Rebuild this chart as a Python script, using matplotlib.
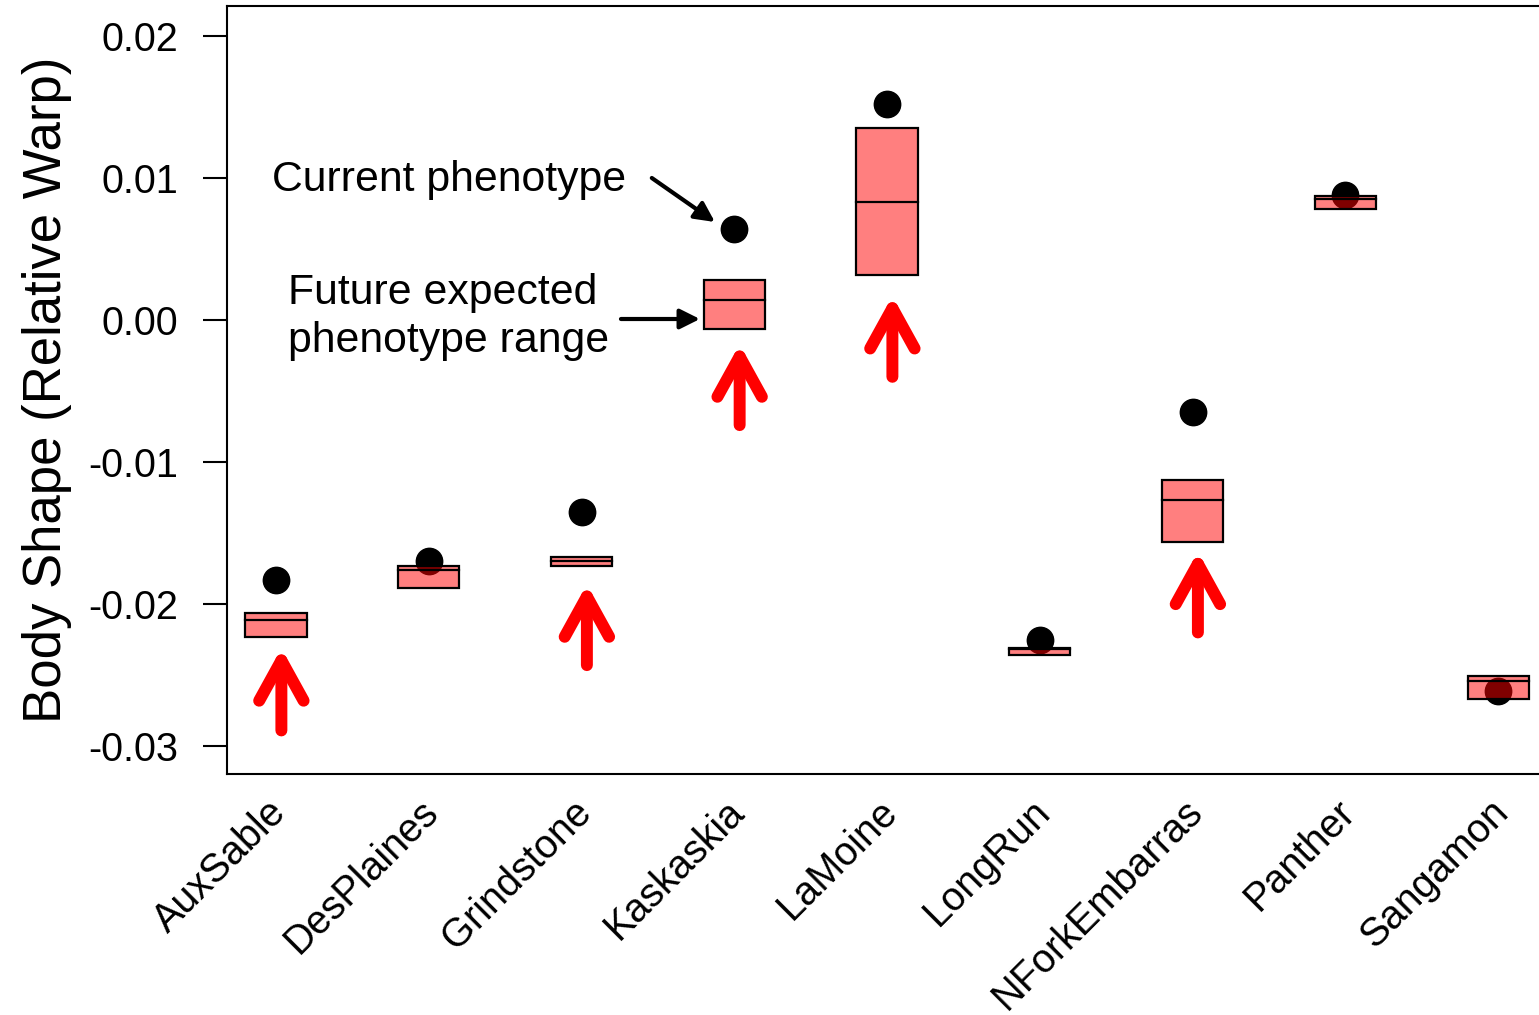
import matplotlib
matplotlib.use('Agg')
import matplotlib.pyplot as plt
from matplotlib.patches import Rectangle

plt.rcParams['font.family'] = ['Liberation Sans', 'DejaVu Sans']

# sites and body shape values
sites = ['AuxSable', 'DesPlaines', 'Grindstone', 'Kaskaskia', 'LaMoine',
         'LongRun', 'NForkEmbarras', 'Panther', 'Sangamon']
current = [-0.0183, -0.0170, -0.0135, 0.0064, 0.0152, -0.0225, -0.0065, 0.0088, -0.0261]
future_low = [-0.0223, -0.0189, -0.0173, -0.0006, 0.0032, -0.0236, -0.0156, 0.0078, -0.0267]
future_mid = [-0.0211, -0.0176, -0.0170, 0.0014, 0.0083, -0.0232, -0.0127, 0.0085, -0.0254]
future_high = [-0.0206, -0.0173, -0.0167, 0.0028, 0.0135, -0.0231, -0.0113, 0.0087, -0.0251]

# red "shift upward" arrows
shift_sites = ['AuxSable', 'Grindstone', 'Kaskaskia', 'LaMoine', 'NForkEmbarras']
shift_tip = [-0.0231, -0.0186, -0.0017, 0.0017, -0.0163]
shift_tail = [-0.0289, -0.0243, -0.0074, -0.0040, -0.0220]

yticks = [-0.03, -0.02, -0.01, 0.00, 0.01, 0.02]
ytick_labels = ['-0.03', '-0.02', '-0.01', '0.00', '0.01', '0.02']

fig = plt.figure(figsize=(15.39, 10.15), dpi=100)
ax = fig.add_axes([0.1475, 0.2374, 0.8525, 0.7567])

pos = list(range(1, len(sites) + 1))

# current phenotype dots (drawn under the boxes)
ax.plot(pos, current, 'o', color='black', markersize=19, zorder=2)

# future ranges: translucent red boxes with median line
box_w = 0.4
for p, lo, mid, hi in zip(pos, future_low, future_mid, future_high):
    ax.add_patch(Rectangle((p - box_w / 2, lo), box_w, hi - lo,
                           facecolor=(1, 0, 0, 0.5), edgecolor='black',
                           lw=1.6, zorder=3))
    ax.plot([p - box_w / 2, p + box_w / 2], [mid, mid], color='black', lw=1.6, zorder=4)

for s, tip, tail in zip(shift_sites, shift_tip, shift_tail):
    x = sites.index(s) + 1 + 0.035
    ax.annotate('', xy=(x, tip), xytext=(x, tail),
                arrowprops=dict(arrowstyle='->,head_length=1.45,head_width=0.8',
                                color='red', lw=8.6, mutation_scale=20,
                                shrinkA=0, shrinkB=0, capstyle='round'))

# legend-like annotations
ax.text(0.973, 0.00986, 'Current phenotype', fontsize=30.8, ha='left', va='center')
ax.text(1.078, 0.0002, 'Future expected\nphenotype range', fontsize=30.8,
        ha='left', va='center', linespacing=1.26)
ax.annotate('', xy=(3.873, 0.0069), xytext=(3.46, 0.0100),
            arrowprops=dict(arrowstyle='-|>,head_length=0.6,head_width=0.3',
                            color='black', lw=3, mutation_scale=20,
                            shrinkA=0, shrinkB=0))
ax.annotate('', xy=(3.775, 0.00007), xytext=(3.258, 0.00007),
            arrowprops=dict(arrowstyle='-|>,head_length=0.6,head_width=0.3',
                            color='black', lw=3, mutation_scale=20,
                            shrinkA=0, shrinkB=0))

ax.set_xlim(0.679, 9.268)
ax.set_ylim(-0.03197, 0.02211)

ax.set_yticks(yticks)
ax.set_yticklabels(ytick_labels)
ax.set_xticks(pos)
ax.set_xticklabels(sites, rotation=45, ha='right', va='center', rotation_mode='anchor')
ax.tick_params(axis='y', length=17, width=1.5, pad=18, labelsize=28.5)
ax.tick_params(axis='x', length=0, pad=23, labelsize=28.5)
for lbl in ax.get_xticklabels():
    lbl.set_transform(lbl.get_transform() + matplotlib.transforms.ScaledTranslation(4 / 100, 0, fig.dpi_scale_trans))

ax.spines['right'].set_visible(False)
for side in ['left', 'bottom', 'top']:
    ax.spines[side].set_linewidth(1.5)

ax.set_ylabel('Body Shape (Relative Warp)', fontsize=38, labelpad=12)

fig.savefig('out.png', dpi=100)
